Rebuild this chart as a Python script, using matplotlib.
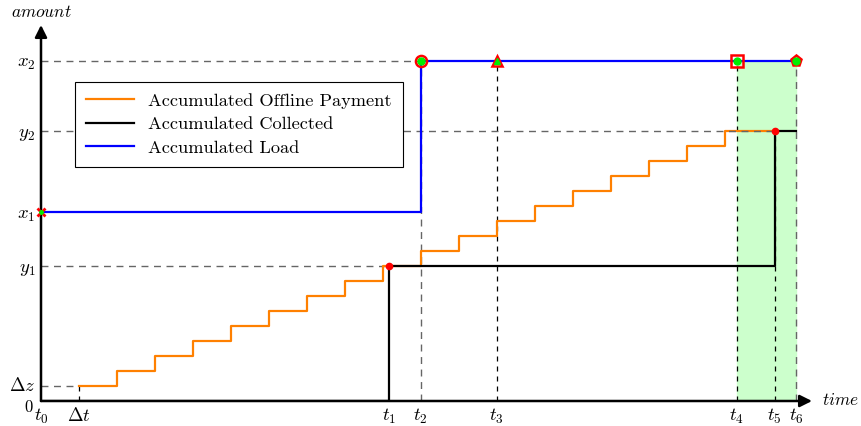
import matplotlib.pyplot as plt
import matplotlib.transforms as mtransforms
import numpy as np

plt.rcParams['font.family'] = 'cmr10'
plt.rcParams['mathtext.fontset'] = 'cm'
plt.rcParams['axes.formatter.use_mathtext'] = True

# key times (in units of delta t) and amounts (in units of delta z)
t1, t2, t3, t4, t5, t6 = 9.16, 10.0, 12.0, 18.32, 19.32, 19.89
dt = 1.0
dz, y1, x1, y2, x2 = 1.0, 9.0, 12.6, 18.0, 22.7

# accumulated offline payment: one delta z per delta t
pay_t = [1, 2, 3, 4, 5, 6, 7, 8, 9, 10, 11, 12, 13, 14, 15, 16, 17, 18, t5]
pay_v = [1, 2, 3, 4, 5, 6, 7, 8, 9, 10, 11, 12, 13, 14, 15, 16, 17, 18, 18]

# accumulated collected
col_t = [0, t1, t5, t6]
col_v = [0, y1, y2, y2]

# accumulated load
load_t = [0, t2, t6]
load_v = [x1, x2, x2]

xticks = [0, dt, t1, t2, t3, t4, t5, t6]
xlabels = ['$t_0$', r'$\Delta t$', '$t_1$', '$t_2$', '$t_3$', '$t_4$', '$t_5$', '$t_6$']
yticks = [0, dz, y1, x1, y2, x2]
ylabels = ['$0$', r'$\Delta z$', '$y_1$', '$x_1$', '$y_2$', '$x_2$']

fig = plt.figure(figsize=(8.62, 4.26), dpi=100)
ax = fig.add_axes([41/862, 25/426, 771/862, 376/426])
ax.set_xlim(0, 20.3)
ax.set_ylim(0, 25.07)

# shaded window
ax.axvspan(t4, t6, ymin=0, ymax=x2/25.07, color='#ccffcc', zorder=0)

ax.step(pay_t, pay_v, where='post', color='#ff8000', lw=1.6, zorder=2,
        label='Accumulated Offline Payment')
ax.step(col_t, col_v, where='post', color='black', lw=1.6, zorder=3,
        label='Accumulated Collected')
ax.step(load_t, load_v, where='post', color='#0000ff', lw=1.6, zorder=3,
        label='Accumulated Load')

# helper dashed lines
gray = '#666666'
ax.plot([0, t2], [x2, x2], ls=(0, (5, 4)), color=gray, lw=1, zorder=1)
ax.plot([0, t5], [y2, y2], ls=(0, (5, 4)), color=gray, lw=1, zorder=2.5)
ax.plot([0, t1], [y1, y1], ls=(0, (5, 4)), color=gray, lw=1, zorder=1)
ax.plot([0, dt], [dz, dz], ls=(0, (5, 4)), color=gray, lw=1, zorder=1)
ax.plot([t2, t2], [0, x2], ls=(0, (5, 4)), color=gray, lw=1, zorder=1)
ax.plot([t6, t6], [0, x2], ls=(0, (5, 4)), color=gray, lw=1, zorder=1)
for t, top in [(t3, x2), (t4, x2), (t5, y2), (dt, dz)]:
    ax.plot([t, t], [0, top], ls=(0, (4, 4)), color='black', lw=0.9, zorder=1)

# event markers
ax.plot([t1, t5], [y1, y2], 'o', color='red', ms=4.5, zorder=5)
ax.plot(t2, x2, 'o', mfc='none', mec='red', mew=1.8, ms=8, zorder=5)
ax.plot(t3, x2, '^', mfc='none', mec='red', mew=1.8, ms=7, zorder=5)
ax.plot(t4, x2, 's', mfc='none', mec='red', mew=1.8, ms=8, zorder=5)
ax.plot(t6, x2, 'p', mfc='none', mec='red', mew=1.8, ms=8, zorder=5)
ax.plot(0, x1, 'x', color='red', mew=2, ms=6, zorder=5, clip_on=False)
ax.plot([t2, t4, t6], [x2, x2, x2], 'o', color='#00ee00', ms=5, zorder=6)
ax.plot(t3, x2, '^', color='#00ee00', ms=4, zorder=6)
ax.plot(0, x1, 'o', color='#00ee00', ms=2.5, zorder=6, clip_on=False)

# axes with arrows
for s in ax.spines.values():
    s.set_visible(False)
ax.annotate('', xy=(1.0, 0), xytext=(0, 0), xycoords='axes fraction',
            arrowprops=dict(arrowstyle='-|>', color='black', lw=1.8,
                            mutation_scale=18, shrinkA=0, shrinkB=0))
ax.annotate('', xy=(0, 1.0), xytext=(0, 0), xycoords='axes fraction',
            arrowprops=dict(arrowstyle='-|>', color='black', lw=1.8,
                            mutation_scale=18, shrinkA=0, shrinkB=0))

ax.set_xticks(xticks)
ax.set_xticklabels(xlabels, fontsize=13.5)
ax.set_yticks(yticks)
ax.set_yticklabels(ylabels, fontsize=13.5)
ax.tick_params(length=0, pad=4)

# the zero label sits just under delta z, nudge it down a bit
zero = ax.get_yticklabels()[0]
zero.set_fontsize(12)
zero.set_transform(zero.get_transform() +
                   mtransforms.ScaledTranslation(-2/100, -4/100, fig.dpi_scale_trans))
dzl = ax.get_yticklabels()[1]
dzl.set_transform(dzl.get_transform() +
                  mtransforms.ScaledTranslation(0, 2/100, fig.dpi_scale_trans))

fig.text(41/862, 1 - 12/426, '$amount$', ha='center', va='center', fontsize=12.5)
fig.text(840/862, 1 - 400/426, '$time$', ha='center', va='center', fontsize=12.5)

leg = ax.legend(loc='upper left', bbox_to_anchor=(34/771, (401-82)/376),
                borderaxespad=0, fancybox=False, edgecolor='black',
                framealpha=1, fontsize=13.2, handlelength=2.6,
                labelspacing=0.42, borderpad=0.6)
leg.get_frame().set_linewidth(0.8)

plt.savefig('out.png', dpi=100)
